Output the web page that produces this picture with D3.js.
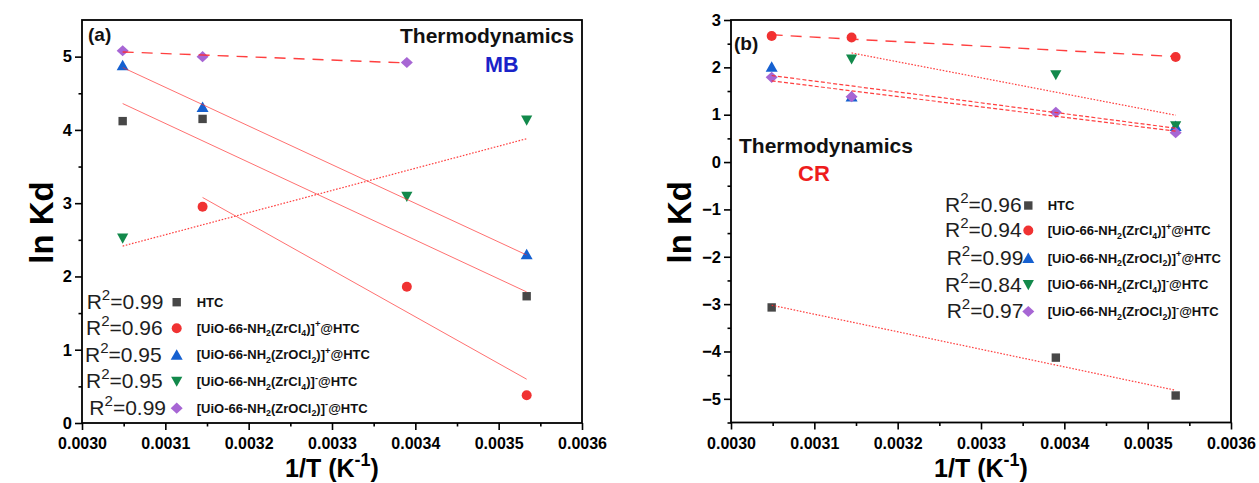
<!DOCTYPE html>
<html><head><meta charset="utf-8">
<script src="https://cdn.jsdelivr.net/npm/d3@7"></script>
<style>
body{margin:0;background:#fff}
svg{display:block}
text{font-family:"Liberation Sans",Arial,Helvetica,sans-serif}
</style>
</head><body>
<svg id="chart" width="1259" height="483"></svg>
<script>
// ---------------- DATA ----------------
const invT = [0.0030488, 0.0031447, 0.0033898, 0.0035336];   // 1/T (K^-1)

// Panel (a) MB : ln Kd
const mbHTC      = [4.12, 4.15, null, 1.73];
const mbZrCl4P   = [null, 2.95, 1.86, 0.38];
const mbZrOCl2P  = [4.88, 4.31, null, 2.30];
const mbZrCl4N   = [2.52, null, 3.09, 4.13];
const mbZrOCl2N  = [5.08, 5.00, 4.92, null];
const mbR2 = ["0.99", "0.96", "0.95", "0.95", "0.99"];

// Panel (b) CR : ln Kd
const crHTC      = [-3.07, null, -4.13, -4.93];
const crZrCl4P   = [2.66, 2.63, null, 2.22];
const crZrOCl2P  = [2.01, 1.38, null, 0.76];
const crZrCl4N   = [null, 2.17, 1.84, 0.76];
const crZrOCl2N  = [1.79, 1.38, 1.05, 0.62];
const crR2 = ["0.96", "0.94", "0.99", "0.84", "0.97"];

const xTicks   = [0.0030, 0.0031, 0.0032, 0.0033, 0.0034, 0.0035, 0.0036];
const mbYTicks = [0, 1, 2, 3, 4, 5];
const crYTicks = [-5, -4, -3, -2, -1, 0, 1, 2, 3];

// legend label pieces: [text, kind]
const seriesLabels = [
  [["HTC", ""]],
  [["[UiO-66-NH", ""], ["2", "sub"], ["(ZrCl", ""], ["4", "sub"], [")]", ""], ["+", "sup"], ["@HTC", ""]],
  [["[UiO-66-NH", ""], ["2", "sub"], ["(ZrOCl", ""], ["2", "sub"], [")]", ""], ["+", "sup"], ["@HTC", ""]],
  [["[UiO-66-NH", ""], ["2", "sub"], ["(ZrCl", ""], ["4", "sub"], [")]", ""], ["-", "sup"], ["@HTC", ""]],
  [["[UiO-66-NH", ""], ["2", "sub"], ["(ZrOCl", ""], ["2", "sub"], [")]", ""], ["-", "sup"], ["@HTC", ""]]
];

// ---------------- STYLE ----------------
const markerColors = ["#474747", "#f03232", "#1560d0", "#12894b", "#a766d4"];
const markerKinds  = ["square", "circle", "up", "down", "diamond"];
const dashStyles = {solid: null, dot: "1.6,1.6", dash: "11,8", short: "4,2.2"};
const fitStroke = "#ff2a2a";

const svg = d3.select("#chart");
const font = '"Liberation Sans",Arial,Helvetica,sans-serif';

function markerPath(kind) {
  switch (kind) {
    case "square":  return "M-4.2,-4.2H4.2V4.2H-4.2Z";
    case "circle":  return d3.symbol(d3.symbolCircle, 78)();
    case "up":      return "M0,-5.6L6,4.9H-6Z";
    case "down":    return "M0,5.3L5.6,-4.8H-5.6Z";
    case "diamond": return "M0,-5.6L6,0L0,5.6L-6,0Z";
  }
}

function fit(xs, ys) {
  const pts = xs.map((x, i) => [x, ys[i]]).filter(p => p[1] !== null);
  const mx = d3.mean(pts, p => p[0]), my = d3.mean(pts, p => p[1]);
  const sxy = d3.sum(pts, p => (p[0] - mx) * (p[1] - my));
  const sxx = d3.sum(pts, p => (p[0] - mx) ** 2);
  const b = sxy / sxx, a = my - b * mx;
  const [x0, x1] = d3.extent(pts, p => p[0]);
  return [[x0, a + b * x0], [x1, a + b * x1]];
}

function addRich(sel, parts, baseSize) {
  parts.forEach(([t, kind], i) => {
    const prev = i > 0 ? parts[i - 1][1] : "";
    const ts = sel.append("tspan").text(t);
    let dy = 0;
    if (prev === "sub") dy -= baseSize * 0.28;
    if (prev === "sup") dy += baseSize * 0.42;
    if (kind === "sub") { dy += baseSize * 0.28; ts.attr("font-size", baseSize * 0.68); }
    if (kind === "sup") { dy -= baseSize * 0.42; ts.attr("font-size", baseSize * 0.72); }
    if (dy) ts.attr("dy", dy);
  });
}

function panel(cfg) {
  const x = d3.scaleLinear().domain([0.0030, 0.0036]).range([cfg.left, cfg.right]);
  const y = d3.scaleLinear().domain(cfg.yDomain).range([cfg.bottom, cfg.top]);
  const g = svg.append("g");

  // minor ticks
  const xMinor = d3.range(0.00305, 0.0036, 0.0001);
  const yMinor = d3.range(cfg.yDomain[0] + (cfg.yDomain[0] % 1 === 0 ? 0.5 : 0), cfg.yDomain[1], 1);
  g.append("g").attr("transform", `translate(0,${cfg.bottom})`)
    .call(d3.axisBottom(x).tickValues(xMinor).tickSize(3.5).tickSizeOuter(0).tickFormat(""))
    .call(a => a.select(".domain").remove())
    .selectAll("line").attr("stroke-width", 1.6);
  g.append("g").attr("transform", `translate(${cfg.left},0)`)
    .call(d3.axisLeft(y).tickValues(yMinor).tickSize(3.5).tickSizeOuter(0).tickFormat(""))
    .call(a => a.select(".domain").remove())
    .selectAll("line").attr("stroke-width", 1.6);

  // major ticks
  const xa = g.append("g").attr("transform", `translate(0,${cfg.bottom})`)
    .call(d3.axisBottom(x).tickValues(xTicks).tickSize(7).tickSizeOuter(0).tickPadding(8).tickFormat(d3.format(".4f")));
  xa.select(".domain").remove();
  xa.selectAll("line").attr("stroke-width", 1.6);
  xa.selectAll("text").attr("font-family", font).attr("font-size", 16).attr("font-weight", "bold").attr("fill", "#000");
  const ya = g.append("g").attr("transform", `translate(${cfg.left},0)`)
    .call(d3.axisLeft(y).tickValues(cfg.yTicks).tickSize(7).tickSizeOuter(0).tickPadding(3).tickFormat(d3.format("d")));
  ya.select(".domain").remove();
  ya.selectAll("line").attr("stroke-width", 1.6);
  ya.selectAll("text").attr("font-family", font).attr("font-size", 16.5).attr("font-weight", "bold").attr("fill", "#000");

  // frame
  g.append("rect").attr("x", cfg.left).attr("y", cfg.top)
    .attr("width", cfg.right - cfg.left).attr("height", cfg.bottom - cfg.top)
    .attr("fill", "none").attr("stroke", "#000").attr("stroke-width", 1.8);

  // markers
  cfg.series.forEach((vals, si) => {
    g.append("g").selectAll("path")
      .data(invT.map((xv, i) => [xv, vals[i]]).filter(d => d[1] !== null))
      .join("path")
      .attr("d", markerPath(markerKinds[si]))
      .attr("transform", d => `translate(${x(d[0])},${y(d[1])})`)
      .attr("fill", markerColors[si]);
  });

  // regression lines (drawn over markers)
  cfg.series.forEach((vals, si) => {
    const seg = fit(invT, vals);
    const st = cfg.lineStyles[si];
    g.append("path")
      .attr("d", d3.line().x(d => x(d[0])).y(d => y(d[1]))(seg))
      .attr("fill", "none")
      .attr("stroke", fitStroke)
      .attr("stroke-opacity", st === "solid" ? 0.75 : 0.9)
      .attr("stroke-width", st === "dash" ? 1.4 : (st === "solid" ? 0.9 : 1.2))
      .attr("stroke-dasharray", dashStyles[st]);
  });

  // axis titles
  g.append("text")
    .attr("transform", `translate(${cfg.yTitleX},${(cfg.top + cfg.bottom) / 2 + 1}) rotate(-90)`)
    .attr("text-anchor", "middle").attr("font-size", 33).attr("font-weight", "bold")
    .text("ln Kd");
  const xt = g.append("text")
    .attr("x", (cfg.left + cfg.right) / 2).attr("y", 476.5)
    .attr("text-anchor", "middle").attr("font-size", 25).attr("font-weight", "bold");
  addRich(xt, [["1/T (K", ""], ["-1", "sup"], [")", ""]], 25);

  // panel texts
  cfg.notes.forEach(n => {
    g.append("text").attr("x", n.x).attr("y", n.y).attr("font-size", n.size)
      .attr("font-weight", "bold").attr("fill", n.color).text(n.text);
  });

  // legend
  cfg.r2.forEach((r, i) => {
    const L = cfg.legend;
    const by = L.baselines[i];
    const t = g.append("text").attr("x", L.rx[i]).attr("y", by).attr("font-size", 21).attr("fill", "#1e1e1e");
    addRich(t, [["R", ""], ["2", "sup"], ["=" + r, ""]], 21);
    g.append("path").attr("d", markerPath(markerKinds[i]))
      .attr("transform", `translate(${L.mx},${by - 6.8})`).attr("fill", markerColors[i]);
    const lt = g.append("text").attr("x", L.lx).attr("y", by - 2.3)
      .attr("font-size", 13).attr("font-weight", "bold").attr("fill", "#111");
    addRich(lt, seriesLabels[i], 13);
  });
}

panel({
  left: 82, right: 582, top: 20, bottom: 423,
  yDomain: [0, 5.5], yTicks: mbYTicks,
  series: [mbHTC, mbZrCl4P, mbZrOCl2P, mbZrCl4N, mbZrOCl2N],
  lineStyles: ["solid", "solid", "solid", "dot", "dash"],
  r2: mbR2,
  yTitleX: 53,
  notes: [
    {text: "(a)", x: 88, y: 41, size: 19, color: "#111"},
    {text: "Thermodynamics", x: 400, y: 43, size: 21, color: "#111"},
    {text: "MB", x: 485, y: 71.5, size: 21.5, color: "#1a22c8"}
  ],
  legend: {baselines: [309, 335, 361.7, 388.3, 415], rx: [86.7, 86, 85, 86, 89.3], mx: 176.7, lx: 196.7}
});

panel({
  left: 731, right: 1231, top: 20, bottom: 422.5,
  yDomain: [-5.5, 3], yTicks: crYTicks,
  series: [crHTC, crZrCl4P, crZrOCl2P, crZrCl4N, crZrOCl2N],
  lineStyles: ["dot", "dash", "short", "dot", "short"],
  r2: crR2,
  yTitleX: 691,
  notes: [
    {text: "(b)", x: 734, y: 50, size: 19, color: "#111"},
    {text: "Thermodynamics", x: 739, y: 153, size: 21, color: "#111"},
    {text: "CR", x: 798, y: 181, size: 22, color: "#ee1c1c"}
  ],
  legend: {baselines: [212.3, 237.3, 265, 291.7, 318.3], rx: [945, 945, 946.7, 945, 946.7], mx: 1028.3, lx: 1047.7}
});
</script>
</body></html>
